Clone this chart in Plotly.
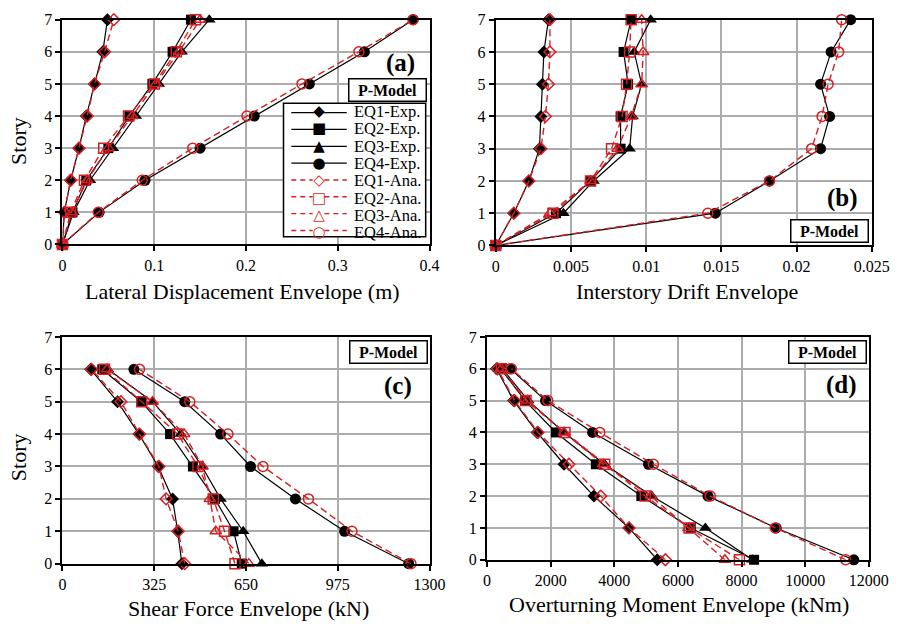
import plotly.graph_objects as go

W, H = 918, 633

# ---------------- data ----------------
stories_ab = [0, 1, 2, 3, 4, 5, 6, 7]
stories_cd = [0, 1, 2, 3, 4, 5, 6]

# (a) lateral displacement envelope (m)
disp_eq1_exp = [0, 0.002, 0.009, 0.018, 0.026, 0.035, 0.044, 0.049]
disp_eq2_exp = [0, 0.011, 0.026, 0.050, 0.073, 0.098, 0.120, 0.140]
disp_eq3_exp = [0, 0.012, 0.030, 0.055, 0.080, 0.105, 0.130, 0.160]
disp_eq4_exp = [0, 0.040, 0.090, 0.150, 0.209, 0.269, 0.329, 0.382]
disp_eq1_ana = [0, 0.002, 0.009, 0.018, 0.027, 0.035, 0.046, 0.056]
disp_eq2_ana = [0, 0.009, 0.024, 0.045, 0.072, 0.100, 0.124, 0.145]
disp_eq3_ana = [0, 0.010, 0.027, 0.050, 0.076, 0.102, 0.127, 0.150]
disp_eq4_ana = [0, 0.039, 0.087, 0.142, 0.201, 0.261, 0.323, 0.382]

# (b) interstory drift envelope
drift_eq1_exp = [0, 0.0012, 0.0022, 0.0029, 0.0030, 0.0031, 0.0032, 0.0035]
drift_eq2_exp = [0, 0.0040, 0.0063, 0.0083, 0.0083, 0.0088, 0.0085, 0.0090]
drift_eq3_exp = [0, 0.0045, 0.0065, 0.0089, 0.0091, 0.0097, 0.0092, 0.0103]
drift_eq4_exp = [0, 0.0146, 0.0182, 0.0216, 0.0222, 0.0216, 0.0223, 0.0236]
drift_eq1_ana = [0, 0.0012, 0.0022, 0.0030, 0.0033, 0.0035, 0.0036, 0.0036]
drift_eq2_ana = [0, 0.0038, 0.0063, 0.0077, 0.0084, 0.0087, 0.0089, 0.0090]
drift_eq3_ana = [0, 0.0036, 0.0063, 0.0081, 0.0090, 0.0097, 0.0098, 0.0097]
drift_eq4_ana = [0, 0.0141, 0.0182, 0.0210, 0.0217, 0.0221, 0.0228, 0.0230]

# (c) shear force envelope (kN)
shear_eq1_exp = [423, 408, 390, 339, 271, 195, 100]
shear_eq2_exp = [635, 606, 540, 462, 381, 279, 141]
shear_eq3_exp = [706, 640, 560, 494, 419, 319, 161]
shear_eq4_exp = [1226, 999, 825, 666, 560, 433, 253]
shear_eq1_ana = [433, 410, 367, 342, 273, 207, 103]
shear_eq2_ana = [611, 574, 534, 480, 408, 281, 149]
shear_eq3_ana = [660, 543, 522, 496, 431, 319, 158]
shear_eq4_ana = [1234, 1025, 871, 710, 586, 451, 273]

# (d) overturning moment envelope (kNm)
mom_eq1_exp = [5351, 4463, 3360, 2420, 1573, 837, 296]
mom_eq2_exp = [8395, 6403, 4851, 3421, 2165, 1195, 429]
mom_eq3_exp = [8344, 6863, 5178, 3697, 2420, 1297, 480]
mom_eq4_exp = [11530, 9089, 6944, 5076, 3319, 1838, 735]
mom_eq1_ana = [5607, 4463, 3574, 2574, 1603, 868, 327]
mom_eq2_ana = [7935, 6352, 4974, 3697, 2451, 1226, 449]
mom_eq3_ana = [7476, 6332, 5147, 3646, 2420, 1266, 449]
mom_eq4_ana = [11275, 9059, 7016, 5229, 3544, 1910, 766]

series_names = ["EQ1-Exp.", "EQ2-Exp.", "EQ3-Exp.", "EQ4-Exp.",
                "EQ1-Ana.", "EQ2-Ana.", "EQ3-Ana.", "EQ4-Ana."]

x_ticks_a = [0, 0.1, 0.2, 0.3, 0.4]
x_ticks_b = [0, 0.005, 0.01, 0.015, 0.02, 0.025]
x_ticks_c = [0, 325, 650, 975, 1300]
x_ticks_d = [0, 2000, 4000, 6000, 8000, 10000, 12000]
y_ticks = [0, 1, 2, 3, 4, 5, 6, 7]

# ---------------- styling ----------------
FONT = "Liberation Serif"
RED = "#d51f22"
symbols_exp = ["diamond", "square", "triangle-up", "circle"]
symbols_ana = ["diamond-open", "square-open", "triangle-up-open", "circle-open"]
glyphs_exp = ["\u25C6", "\u25A0", "\u25B2", "\u25CF"]
glyphs_ana = ["\u25C7", "\u25A1", "\u25B3", "\u25CB"]
sizes_exp = [10, 10, 11, 11]
sizes_ana = [9, 10, 10, 10]

fig = go.Figure()

panels = [
    ("x", "y", stories_ab, [disp_eq1_exp, disp_eq2_exp, disp_eq3_exp, disp_eq4_exp],
     [disp_eq1_ana, disp_eq2_ana, disp_eq3_ana, disp_eq4_ana]),
    ("x2", "y2", stories_ab, [drift_eq1_exp, drift_eq2_exp, drift_eq3_exp, drift_eq4_exp],
     [drift_eq1_ana, drift_eq2_ana, drift_eq3_ana, drift_eq4_ana]),
    ("x3", "y3", stories_cd, [shear_eq1_exp, shear_eq2_exp, shear_eq3_exp, shear_eq4_exp],
     [shear_eq1_ana, shear_eq2_ana, shear_eq3_ana, shear_eq4_ana]),
    ("x4", "y4", stories_cd, [mom_eq1_exp, mom_eq2_exp, mom_eq3_exp, mom_eq4_exp],
     [mom_eq1_ana, mom_eq2_ana, mom_eq3_ana, mom_eq4_ana]),
]

for xa, ya, ys, exps, anas in panels:
    for i, xs in enumerate(exps):
        fig.add_trace(go.Scatter(
            x=xs, y=ys, xaxis=xa, yaxis=ya, mode="lines+markers",
            name=series_names[i], showlegend=False, cliponaxis=False,
            line=dict(color="black", width=1.2),
            marker=dict(symbol=symbols_exp[i], size=sizes_exp[i], color="black")))
    for i, xs in enumerate(anas):
        fig.add_trace(go.Scatter(
            x=xs, y=ys, xaxis=xa, yaxis=ya, mode="lines+markers",
            name=series_names[4 + i], showlegend=False, cliponaxis=False,
            line=dict(color=RED, width=1.4, dash="7px,4px"),
            marker=dict(symbol=symbols_ana[i], size=sizes_ana[i], color=RED,
                        line=dict(color=RED, width=1.5))))

def px_x(px):
    return px / W

def px_y(py):
    return 1 - py / H

axis_common = dict(
    showline=True, linecolor="black", linewidth=2, mirror=True,
    showgrid=True, gridcolor="#acacac", gridwidth=1.8,
    zeroline=False, ticks="outside", ticklen=5, tickcolor="black", tickwidth=1.5,
    tickfont=dict(family=FONT, size=16, color="black"),
)

domains = {
    "a": ([px_x(60), px_x(437)], [px_y(243), px_y(12)]),
    "b": ([px_x(505), px_x(891)], [px_y(244), px_y(12)]),
    "c": ([px_x(60), px_x(437)], [px_y(571), px_y(338)]),
    "d": ([px_x(496), px_x(888)], [px_y(567), px_y(338)]),
}

fig.update_layout(
    xaxis=dict(axis_common, domain=domains["a"][0], anchor="y", range=[0, 0.4],
               tickvals=x_ticks_a, ticktext=["0", "0.1", "0.2", "0.3", "0.4"]),
    yaxis=dict(axis_common, domain=domains["a"][1], anchor="x", range=[0, 7], tickvals=y_ticks),
    xaxis2=dict(axis_common, domain=domains["b"][0], anchor="y2", range=[0, 0.025],
                tickvals=x_ticks_b, ticktext=["0", "0.005", "0.01", "0.015", "0.02", "0.025"]),
    yaxis2=dict(axis_common, domain=domains["b"][1], anchor="x2", range=[0, 7], tickvals=y_ticks),
    xaxis3=dict(axis_common, domain=domains["c"][0], anchor="y3", range=[0, 1300],
                tickvals=x_ticks_c, ticktext=["0", "325", "650", "975", "1300"]),
    yaxis3=dict(axis_common, domain=domains["c"][1], anchor="x3", range=[0, 7], tickvals=y_ticks),
    xaxis4=dict(axis_common, domain=domains["d"][0], anchor="y4", range=[0, 12000],
                tickvals=x_ticks_d, ticktext=[str(v) for v in x_ticks_d]),
    yaxis4=dict(axis_common, domain=domains["d"][1], anchor="x4", range=[0, 7], tickvals=y_ticks),
)

annotations = []
shapes = []
title_font = dict(family=FONT, size=22, color="black")
for text, cx, cy in [
    ("Lateral Displacement Envelope (m)", 245, 291),
    ("Interstory Drift Envelope", 701, 291),
    ("Shear Force Envelope (kN)", 251, 617),
    ("Overturning Moment Envelope (kNm)", 693, 613),
]:
    annotations.append(dict(text=text, x=px_x(cx), y=px_y(cy), xref="paper", yref="paper",
                            xanchor="center", yanchor="middle", showarrow=False, font=title_font))
for cy in [137, 462]:
    annotations.append(dict(text="Story", x=px_x(15), y=px_y(cy), xref="paper", yref="paper",
                            xanchor="center", yanchor="middle", showarrow=False, textangle=-90,
                            font=title_font))
for text, cx, cy in [("(a)", 407, 57), ("(b)", 861, 195), ("(c)", 405, 388), ("(d)", 860, 387)]:
    annotations.append(dict(text="<b>" + text + "</b>", x=px_x(cx), y=px_y(cy), xref="paper",
                            yref="paper", xanchor="center", yanchor="middle", showarrow=False,
                            font=dict(family=FONT, size=25, color="black")))
for cx, cy in [(394, 84.5), (848, 229), (395, 354), (846, 353)]:
    annotations.append(dict(text="<b>P-Model</b>", x=px_x(cx), y=px_y(cy), xref="paper",
                            yref="paper", xanchor="center", yanchor="middle", showarrow=False,
                            font=dict(family=FONT, size=16, color="black"),
                            bordercolor="black", borderwidth=1.5, borderpad=2,
                            bgcolor="white", width=72))

# ---------------- legend box (panel a) ----------------
shapes.append(dict(type="rect", xref="paper", yref="paper",
                   x0=px_x(287), x1=px_x(433), y0=px_y(235), y1=px_y(98),
                   line=dict(color="black", width=1.5), fillcolor="white", layer="above"))
row_top, row_step = 107.5, 17.3
base_size = row_step / 1.3
for i, name in enumerate(series_names):
    yc = row_top + i * row_step
    if i < 4:
        shapes.append(dict(type="line", xref="paper", yref="paper",
                           x0=px_x(295), x1=px_x(352), y0=px_y(yc), y1=px_y(yc),
                           line=dict(color="black", width=1.3), layer="above"))
    else:
        for x0, x1 in [(295, 317), (329, 352)]:
            shapes.append(dict(type="line", xref="paper", yref="paper",
                               x0=px_x(x0), x1=px_x(x1), y0=px_y(yc), y1=px_y(yc),
                               line=dict(color=RED, width=1.4, dash="5px,4px"), layer="above"))

block_center = row_top + (len(series_names) - 1) * row_step / 2
glyph_lines = ['<span style="font-size:15px;color:black">' + g + '</span>' for g in glyphs_exp] + \
              ['<span style="font-size:15px;color:%s">' % RED + g + '</span>' for g in glyphs_ana]
annotations.append(dict(text="<br>".join(glyph_lines), x=px_x(323), y=px_y(block_center),
                        xref="paper", yref="paper", xanchor="center", yanchor="middle",
                        align="center", showarrow=False,
                        font=dict(family="DejaVu Sans", size=base_size, color="black")))
label_lines = ['<span style="font-size:16.5px">' + n + '</span>' for n in series_names]
annotations.append(dict(text="<br>".join(label_lines), x=px_x(357), y=px_y(block_center),
                        xref="paper", yref="paper", xanchor="left", yanchor="middle",
                        align="left", showarrow=False,
                        font=dict(family=FONT, size=base_size, color="black")))

fig.update_layout(
    width=W, height=H, margin=dict(l=0, r=0, t=0, b=0),
    paper_bgcolor="white", plot_bgcolor="white",
    annotations=annotations, shapes=shapes,
    showlegend=False,
)

fig.write_html("out.html")
